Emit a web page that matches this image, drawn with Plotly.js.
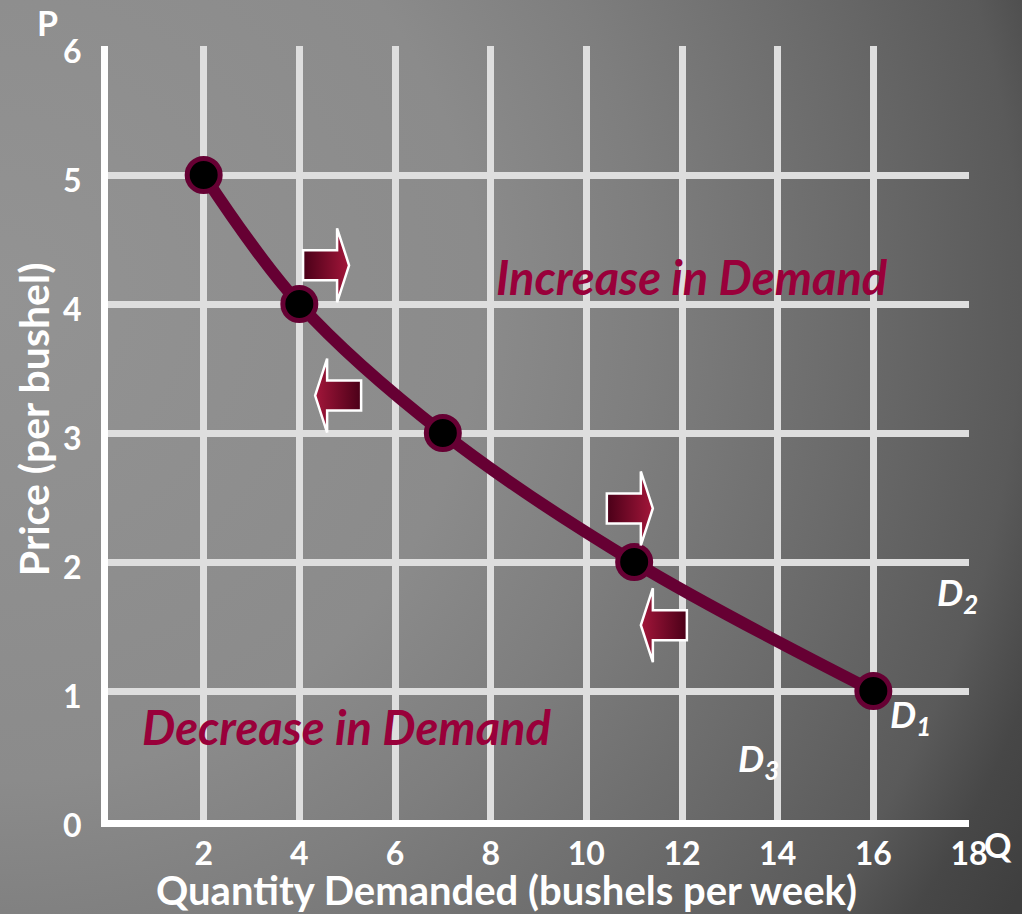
<!DOCTYPE html>
<html>
<head>
<meta charset="utf-8">
<script src="https://cdn.plot.ly/plotly-3.0.1.min.js"></script>
<style>
  html, body { margin: 0; padding: 0; }
  body {
    width: 1022px; height: 914px; overflow: hidden;
    background: radial-gradient(circle at 0px 300px,
      #939393 0px, #8b8b8b 480px, #7e7e7e 650px, #6b6b6b 850px,
      #5a5a5a 1020px, #474747 1100px, #3f3f3f 1180px);
  }
  #chart { width: 1022px; height: 914px; }
</style>
</head>
<body>
<div id="chart"></div>
<script>
// Demand schedule: quantity demanded (bushels per week) at each price (per bushel)
const quantity = [2, 4, 7, 11, 16];
const price = [5, 4, 3, 2, 1];

// Axis ticks
const xTicks = [2, 4, 6, 8, 10, 12, 14, 16, 18];
const xTickText = ['2', '4', '6', '8', '10', '12', '14', '16', '18'];
const yTicks = [0, 1, 2, 3, 4, 5, 6];
const yTickText = ['0', '1', '2', '3', '4', '5', '6'];

// Shift arrows: tip position (data units) and pointing direction
const arrowX = [5.04, 4.33, 11.39, 11.14];
const arrowY = [4.30, 3.29, 2.415, 1.51];
const arrowDir = ['right', 'left', 'right', 'left'];

// Curve labels
const curveLabels = ['D<sub>2</sub>', 'D<sub>1</sub>', 'D<sub>3</sub>'];
const curveLabelX = [17.28, 16.3, 13.12];
const curveLabelY = [1.75, 0.80, 0.46];

const MAROON = '#660033';
const TEXT_RED = '#99003a';
const FONT = 'Lato, "Open Sans", sans-serif';

const demand = {
  x: quantity,
  y: price,
  type: 'scatter',
  mode: 'lines+markers',
  line: { color: MAROON, width: 12, shape: 'spline', smoothing: 1 },
  marker: { size: 33, color: '#000000', line: { color: MAROON, width: 5 } },
  hoverinfo: 'x+y',
  showlegend: false,
  cliponaxis: false
};

// Block arrow outline, in pixels relative to its tip (y up)
function arrowPath(dir) {
  const s = dir === 'right' ? 1 : -1;
  const pts = [
    [0, 0], [-12, 37], [-12, 15], [-46, 15], [-46, -15], [-12, -15], [-12, -37]
  ];
  return 'M' + pts.map(p => (s * p[0]) + ',' + p[1]).join('L') + 'Z';
}

const shapes = arrowX.map((x, i) => ({
  type: 'path',
  xref: 'x', yref: 'y',
  xsizemode: 'pixel', ysizemode: 'pixel',
  xanchor: x, yanchor: arrowY[i],
  path: arrowPath(arrowDir[i]),
  fillcolor: '#7a0a28',
  line: { color: '#ffffff', width: 2.5 },
  layer: 'above',
  name: 'shift-' + arrowDir[i]
}));

const whiteBold = (size) => ({ family: FONT, size: size, color: '#ffffff', weight: 'bold' });

const annotations = [
  { x: 12.2, y: 4.21, xref: 'x', yref: 'y', text: 'Increase in Demand', showarrow: false,
    font: { family: FONT, size: 47, color: TEXT_RED, weight: 'bold', style: 'italic' } },
  { x: 5.0, y: 0.72, xref: 'x', yref: 'y', text: 'Decrease in Demand', showarrow: false,
    font: { family: FONT, size: 47, color: TEXT_RED, weight: 'bold', style: 'italic' } },
  // axis end letters
  { x: -0.07, y: 1.0594, xref: 'paper', yref: 'paper', xanchor: 'center', yanchor: 'top',
    text: 'P', showarrow: false, font: whiteBold(34) },
  { x: 1.034, y: -0.032, xref: 'paper', yref: 'paper', xanchor: 'center', yanchor: 'middle',
    text: 'Q', showarrow: false, font: whiteBold(34) },
  // axis titles
  { x: 0.4634, y: -0.0904, xref: 'paper', yref: 'paper', xanchor: 'center', yanchor: 'middle',
    text: 'Quantity Demanded (bushels per week)', showarrow: false, font: whiteBold(40) },
  { x: -0.087, y: 0.518, xref: 'paper', yref: 'paper', xanchor: 'center', yanchor: 'middle',
    textangle: -90, text: 'Price (per bushel)', showarrow: false, font: whiteBold(41) }
].concat(curveLabels.map((t, i) => ({
  x: curveLabelX[i], y: curveLabelY[i], xref: 'x', yref: 'y',
  xanchor: 'left', yanchor: 'middle',
  text: t, showarrow: false,
  font: { family: FONT, size: 37, color: '#ffffff', weight: 'bold', style: 'italic' }
})));

const layout = {
  width: 1022,
  height: 914,
  margin: { l: 108, r: 53, t: 46, b: 94 },
  paper_bgcolor: 'rgba(0,0,0,0)',
  plot_bgcolor: 'rgba(0,0,0,0)',
  font: { family: FONT, color: '#ffffff' },
  xaxis: {
    range: [0, 18],
    tickmode: 'array', tickvals: xTicks, ticktext: xTickText,
    showgrid: true, gridcolor: '#dedede', gridwidth: 7,
    zeroline: false,
    showline: true, linecolor: '#ffffff', linewidth: 7,
    ticks: '', ticklabelstandoff: 0,
    tickfont: whiteBold(32),
    fixedrange: true
  },
  yaxis: {
    range: [0, 6],
    tickmode: 'array', tickvals: yTicks, ticktext: yTickText,
    showgrid: true, gridcolor: '#dedede', gridwidth: 7,
    zeroline: false,
    showline: true, linecolor: '#ffffff', linewidth: 7,
    ticks: '', ticklabelstandoff: 13, ticklabelshift: 6,
    tickfont: whiteBold(32),
    fixedrange: true
  },
  shapes: shapes,
  annotations: annotations
};

// Shade each arrow from a dark tail to a brighter head
function applyArrowGradients(gd) {
  const svg = gd.querySelector('svg.main-svg');
  if (!svg) return;
  const ns = 'http://www.w3.org/2000/svg';
  let defs = svg.querySelector('defs');
  if (!defs) { defs = document.createElementNS(ns, 'defs'); svg.insertBefore(defs, svg.firstChild); }
  [['arrowGradRight', '#4a0018', '#a3163a'], ['arrowGradLeft', '#a3163a', '#4a0018']].forEach(g => {
    if (defs.querySelector('#' + g[0])) return;
    const lg = document.createElementNS(ns, 'linearGradient');
    lg.setAttribute('id', g[0]);
    lg.setAttribute('x1', '0'); lg.setAttribute('y1', '0');
    lg.setAttribute('x2', '1'); lg.setAttribute('y2', '0');
    [[0, g[1]], [1, g[2]]].forEach(st => {
      const stop = document.createElementNS(ns, 'stop');
      stop.setAttribute('offset', st[0]);
      stop.setAttribute('stop-color', st[1]);
      lg.appendChild(stop);
    });
    defs.appendChild(lg);
  });
  const paths = gd.querySelectorAll('.layer-above .shapelayer path');
  paths.forEach((p, i) => {
    const dir = arrowDir[i] || 'right';
    p.style.fill = dir === 'right' ? 'url(#arrowGradRight)' : 'url(#arrowGradLeft)';
    p.style.fillOpacity = 1;
  });
}

const gd = document.getElementById('chart');
Plotly.newPlot(gd, [demand], layout, { displayModeBar: false, staticPlot: true })
  .then(() => applyArrowGradients(gd));
</script>
</body>
</html>
